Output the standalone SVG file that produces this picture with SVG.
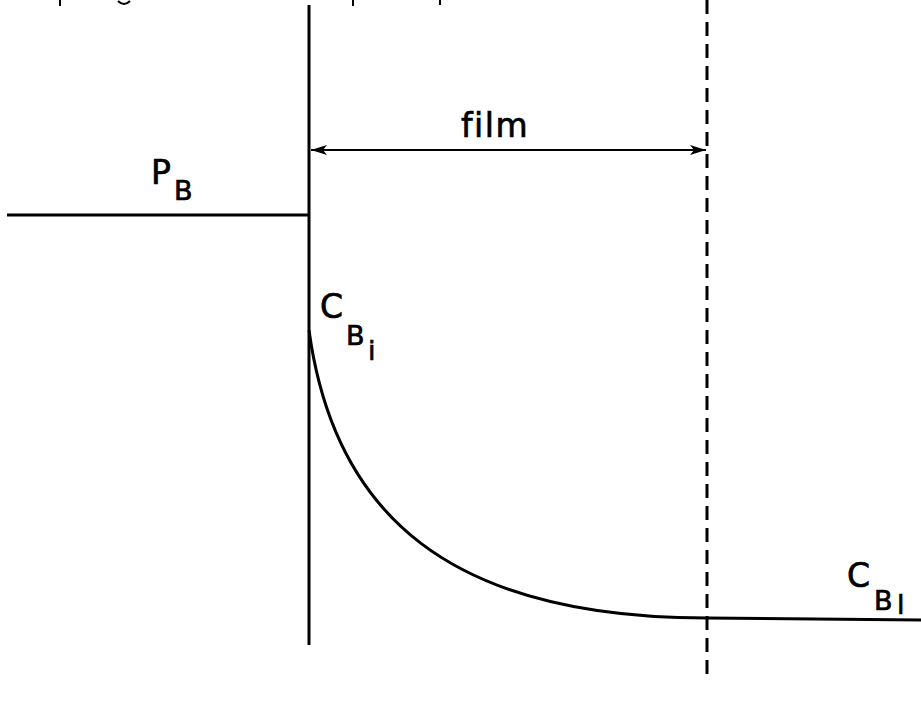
<svg xmlns="http://www.w3.org/2000/svg" width="921" height="701" viewBox="0 0 921 701">
<style>
.ln{stroke:#000;fill:none;stroke-width:3}
.thin{stroke:#000;fill:none;stroke-width:2}
.dash{stroke:#000;fill:none;stroke-width:3;stroke-dasharray:14 8}
text{font-family:"DejaVu Sans","Liberation Sans",sans-serif;fill:#000;stroke:#000;stroke-width:0.7}
.big{font-size:33px}
.sub{font-size:27px}
</style>
<defs>
<marker id="ah" viewBox="0 0 16 10" refX="16" refY="5" markerWidth="16" markerHeight="10" markerUnits="userSpaceOnUse" orient="auto-start-reverse">
<path d="M0,0 L16,5 L0,10 L4,5 Z" fill="#000"/>
</marker>
</defs>
<rect width="921" height="701" fill="#fff"/>
<g id="fragments">
<path class="thin" d="M60,0 V6 M353,0 V6 M440,0 V5"/>
<path class="thin" d="M118,1 Q124,7 130,1"/>
</g>
<g id="interface">
<line class="ln" x1="309" y1="5" x2="309" y2="645"/>
</g>
<g id="film-boundary">
<line class="dash" x1="707" y1="0" x2="707" y2="680"/>
</g>
<g id="gas-pressure">
<line class="ln" x1="7" y1="215" x2="309" y2="215"/>
<text class="big" x="151" y="184">P</text>
<text class="sub" x="174" y="200">B</text>
</g>
<g id="concentration">
<path class="ln" d="M309,330 C334,515 450,618 707,618 L921,620"/>
<text class="big" x="320" y="318">C</text>
<text class="sub" x="346" y="345">B</text>
<text class="sub" x="368" y="360">i</text>
<text class="big" x="847" y="587">C</text>
<text class="sub" x="874" y="610">B</text>
<text class="sub" x="897" y="614">l</text>
</g>
<g id="connectors">
<line class="thin" x1="311" y1="150" x2="706" y2="150" marker-start="url(#ah)" marker-end="url(#ah)"/>
<text class="big" x="461" y="137" letter-spacing="1.5">film</text>
</g>
</svg>
